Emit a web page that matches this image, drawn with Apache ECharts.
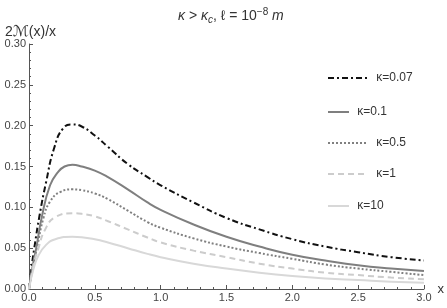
<!DOCTYPE html>
<html><head><meta charset="utf-8">
<script src="https://cdn.jsdelivr.net/npm/echarts@6/dist/echarts.min.js"></script>
<style>html,body{margin:0;padding:0;background:#fff}#c{width:447px;height:308px}</style>
</head><body><div id="c"></div>
<script>
const xTicks = ['0.0','0.5','1.0','1.5','2.0','2.5','3.0'];
const yTicks = ['0.00','0.05','0.10','0.15','0.20','0.25','0.30'];
const names = ['κ=0.07','κ=0.1','κ=0.5','κ=1','κ=10'];

const x007 = [0,0.02,0.04,0.08,0.13,0.19,0.26,0.33,0.4,0.5,0.6,0.75,0.9,1.0,1.25,1.5,1.75,2.0,2.25,2.5,2.75,3.0];
const y007 = [0,0.027,0.05,0.09,0.131,0.172,0.197,0.2015,0.199,0.188,0.174,0.153,0.137,0.127,0.106,0.087,0.073,0.061,0.052,0.045,0.039,0.035];

const x01 = [0,0.03,0.055,0.097,0.16,0.22,0.27,0.33,0.4,0.5,0.6,0.75,0.9,1.0,1.25,1.5,1.75,2.0,2.25,2.5,2.75,3.0];
const y01 = [0,0.03,0.05,0.088,0.127,0.143,0.150,0.152,0.150,0.145,0.137,0.122,0.106,0.097,0.079,0.064,0.052,0.042,0.035,0.029,0.025,0.022];

const x05 = [0,0.03,0.06,0.11,0.16,0.24,0.33,0.4,0.5,0.6,0.75,0.9,1.0,1.25,1.5,1.75,2.0,2.25,2.5,2.75,3.0];
const y05 = [0,0.028,0.05,0.087,0.107,0.119,0.122,0.121,0.117,0.110,0.096,0.082,0.075,0.062,0.052,0.044,0.037,0.030,0.025,0.021,0.017];

const x1 = [0,0.035,0.072,0.12,0.2,0.33,0.4,0.5,0.6,0.75,0.9,1.0,1.25,1.5,1.75,2.0,2.25,2.5,2.75,3.0];
const y1 = [0,0.03,0.05,0.072,0.088,0.0927,0.092,0.089,0.083,0.073,0.063,0.057,0.047,0.039,0.031,0.025,0.020,0.017,0.014,0.012];

const x10 = [0,0.035,0.072,0.13,0.2,0.33,0.4,0.5,0.6,0.75,0.9,1.0,1.25,1.5,1.75,2.0,2.25,2.5,2.75,3.0];
const y10 = [0,0.025,0.041,0.054,0.061,0.064,0.0635,0.061,0.057,0.050,0.043,0.039,0.031,0.025,0.020,0.016,0.013,0.011,0.009,0.0077];

const xs = [x007,x01,x05,x1,x10];
const ys = [y007,y01,y05,y1,y10];
const styles = [
  {color:'#111111', width:2, type:[6,3,2,3]},
  {color:'#7f7f7f', width:2, type:'solid'},
  {color:'#808080', width:2, type:[2,2]},
  {color:'#cccccc', width:2, type:[6,4]},
  {color:'#d8d8d8', width:2, type:'solid'}
];
const legendTops = [67, 101, 132, 163, 195];
const iconW = [40,21,40,40,21];

const font = 'Liberation Sans, Arial, sans-serif';
const chart = echarts.init(document.getElementById('c'));
chart.setOption({
  animation:false,
  title:[
    {text:'{i|κ} > {i|κ}{sub|c}, ℓ = 10{sup|−8} {i|m}', left:173, top:2,
     textStyle:{fontFamily:font,fontSize:14,fontWeight:'normal',color:'#333',
       rich:{i:{fontStyle:'italic',fontSize:14,fontFamily:font,color:'#333'},
             sub:{fontSize:10,fontStyle:'italic',verticalAlign:'bottom',padding:[6,0,0,0],fontFamily:font,color:'#333'},
             sup:{fontSize:10,verticalAlign:'top',padding:[0,0,8,0],fontFamily:font,color:'#333'}}}},
    {text:'2{m|ℳ}(x)/x', left:0, top:20, textStyle:{fontFamily:font,fontSize:14,fontWeight:'normal',color:'#333',
       rich:{m:{fontFamily:'DejaVu Serif, DejaVu Sans, serif',fontSize:15,color:'#333',fontStyle:'italic'}}}}
  ],
  legend: names.map((n,i)=>({data:[n], left:322, top:legendTops[i], itemWidth:iconW[i], itemHeight:12,
      itemStyle:{opacity:0},
      formatter:(s)=>' '+s,
      textStyle:{fontFamily:font,fontSize:12,color:'#333'}, selectedMode:false})),
  grid:{left:29,right:17,top:44,bottom:19,containLabel:false},
  xAxis:{type:'value',min:0,max:3,interval:0.5,name:'x',nameLocation:'end',nameGap:6,
    nameTextStyle:{fontFamily:font,fontSize:13,color:'#333',padding:[0,0,4,0]},
    axisLine:{lineStyle:{color:'#555',width:1}},
    axisTick:{inside:true,length:4,lineStyle:{color:'#555'}},
    minorTick:{show:true,splitNumber:5,length:2,lineStyle:{color:'#555'}},
    splitLine:{show:false},
    axisLabel:{fontFamily:font,fontSize:11,color:'#444',margin:3,formatter:(v)=>xTicks[Math.round(v*2)]}},
  yAxis:{type:'value',min:0,max:0.3,interval:0.05,
    axisLine:{show:true,lineStyle:{color:'#555',width:1}},
    axisTick:{show:true,inside:true,length:4,lineStyle:{color:'#555'}},
    minorTick:{show:true,splitNumber:5,length:2,lineStyle:{color:'#555'}},
    splitLine:{show:false},
    axisLabel:{fontFamily:font,fontSize:11,color:'#444',margin:3,formatter:(v)=>yTicks[Math.round(v*20)]}},
  series: names.map((n,i)=>({name:n,type:'line',smooth:0.5,showSymbol:false,symbol:'none',
     lineStyle:styles[i], itemStyle:{color:styles[i].color},
     data: xs[i].map((x,j)=>[x, ys[i][j]])}))
});
</script></body></html>
